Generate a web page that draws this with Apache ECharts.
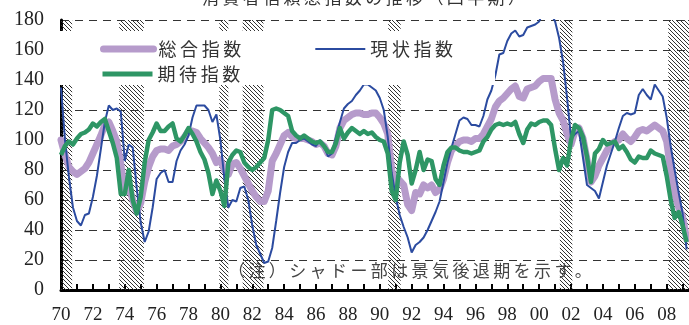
<!DOCTYPE html>
<html>
<head>
<meta charset="utf-8">
<script src="https://cdn.jsdelivr.net/npm/echarts@6/dist/echarts.min.js"></script>
<style>
  html, body { margin: 0; padding: 0; background: #fff; }
  #main { width: 689px; height: 325px; }
</style>
</head>
<body>
<div id="main"></div>
<script>
// quarterly values, 1970Q1 .. 2009Q2
var startYear = 1970;
var compositeIndex = [
  100, 90, 82, 79,   77, 79, 81, 85,   91, 97, 103, 110,   112, 106, 99, 84,
  65, 70, 60, 52,    58, 72, 82, 89,   93, 94, 94, 93,     96, 97, 99, 102,
  106, 106, 105, 101, 98, 95, 91, 85,  87, 80, 77, 84,     85, 81, 76, 71,
  66, 62, 59, 59,    66, 86, 91, 97,   103, 105, 102, 101, 101, 101, 100, 99,
  97, 98, 96, 91,    90, 96, 108, 113, 115, 117, 118, 118, 117, 117, 118, 118,
  115, 111, 104, 80, 69, 73, 70, 57,   53, 65, 64, 70,     68, 70, 65, 67,
  74, 85, 93, 96,    99, 100, 100, 99, 101, 101, 104, 109, 114, 122, 126, 128,
  131, 134, 136, 129, 128, 134, 135, 136, 139, 141, 141, 141, 127, 118, 113, 104,
  97, 106, 108, 101, 87, 72, 76, 83,   88, 93, 97, 99,     100, 104, 101, 99,
  102, 106, 107, 106, 108, 110, 108, 106, 99, 80, 64, 55,  49, 34
];
var presentIndex = [
  135, 100, 75, 55,  46, 43, 50, 51,   62, 76, 94, 112,    123, 120, 121, 119,
  86, 97, 95, 68,    45, 32, 39, 55,   74, 78, 80, 72,     72, 86, 93, 97,
  103, 115, 123, 123, 123, 120, 112, 117, 100, 74, 55, 60, 59, 68, 69, 60,
  43, 30, 24, 18,    19, 28, 46, 65,   82, 92, 98, 98,     100, 101, 99, 97,
  96, 100, 96, 89,   91, 102, 112, 121, 124, 126, 130, 133, 137, 137, 135, 133,
  128, 120, 102, 78, 62, 50, 42, 35,   25, 30, 32, 35,     40, 46, 52, 59,
  72, 85, 95, 104,   113, 115, 114, 110, 110, 109, 116, 127, 133, 143, 157, 158,
  166, 171, 173, 169, 170, 175, 176, 177, 179, 186, 188, 184, 179, 168, 152, 128,
  101, 104, 106, 88, 70, 68, 66, 61,   72, 83, 91, 99,     108, 116, 118, 117,
  118, 130, 134, 130, 127, 137, 133, 129, 115, 96, 80, 65, 51, 27
];
var expectIndex = [
  90, 96, 99, 97,    101, 104, 105, 107, 111, 109, 112, 114, 106, 98, 88, 64,
  64, 80, 60, 51,    62, 85, 100, 105, 111, 106, 106, 109, 111, 101, 99, 103,
  108, 104, 99, 92,  87, 78, 64, 73,   66, 56, 85, 90,     93, 92, 85, 82,
  80, 82, 85, 88,    100, 120, 121, 120, 118, 116, 106, 103, 101, 103, 101, 99,
  98, 99, 96, 92,    92, 98, 108, 101, 105, 108, 106, 104, 106, 104, 105, 102,
  100, 99, 91, 66,   60, 85, 99, 90,   71, 80, 92, 80,     87, 86, 74, 70,
  83, 92, 95, 95,    93, 92, 92, 91,   92, 93, 99, 102,    107, 110, 111, 110,
  111, 110, 112, 104, 98, 107, 111, 110, 112, 113, 113, 110, 94, 80, 88, 83,
  100, 110, 108, 102, 89, 72, 91, 94,  100, 97, 98, 99,    94, 96, 92, 87,
  85, 89, 88, 88,    93, 91, 90, 89,   76, 60, 48, 52,     43, 32
];
var recessions = [
  [1970.0, 1970.7], [1973.65, 1975.2], [1979.93, 1980.5], [1981.4, 1982.7],
  [1990.53, 1991.31], [2001.3, 2002.08], [2008.1, 2009.5]
];
var seriesNames = ['総合指数', '現状指数', '期待指数'];
var titleText = '消費者信頼感指数の推移（四半期）';
var noteText = '（注）シャドー部は景気後退期を示す。';

function toPoints(arr) {
  return arr.map(function (v, i) { return [startYear + i / 4, v]; });
}

function spaced(s) {
  return s.split('').join('\u2009');
}

function hatch() {
  var c = document.createElement('canvas');
  c.width = 4; c.height = 4;
  var g = c.getContext('2d');
  g.strokeStyle = '#333';
  g.lineWidth = 1;
  g.beginPath();
  g.moveTo(-1, -1); g.lineTo(5, 5);
  g.moveTo(-1, 3); g.lineTo(1, 5);
  g.moveTo(3, -1); g.lineTo(5, 1);
  g.stroke();
  return c;
}

var chart = echarts.init(document.getElementById('main'));
var serifFont = '"Liberation Serif", "DejaVu Serif", serif';
var jpFont = '"Noto Sans CJK JP", sans-serif';

var option = {
  animation: false,
  title: {
    text: spaced(titleText),
    left: 197,
    top: -16,
    textStyle: { fontFamily: jpFont, fontSize: 17, fontWeight: 'normal', color: '#333' }
  },
  grid: { left: 61, right: 0, top: 20, bottom: 35 },
  legend: [{
    data: [
      { name: seriesNames[0], lineStyle: { width: 7 } },
      { name: seriesNames[1], lineStyle: { width: 2 } }
    ],
    left: 95, top: 35,
    itemWidth: 50, itemHeight: 14, itemGap: 73,
    itemStyle: { opacity: 0 },
    formatter: spaced,
    textStyle: { fontFamily: jpFont, fontSize: 18, color: '#333' }
  }, {
    data: [{ name: seriesNames[2], lineStyle: { width: 5 } }],
    left: 95, top: 60,
    itemWidth: 50, itemHeight: 14,
    itemStyle: { opacity: 0 },
    formatter: spaced,
    textStyle: { fontFamily: jpFont, fontSize: 18, color: '#333' }
  }],
  xAxis: {
    type: 'value',
    min: 1970, max: 2009.4, interval: 1,
    axisLine: { lineStyle: { color: '#000', width: 3 } },
    axisTick: { inside: true, length: 6, lineStyle: { color: '#000', width: 2 } },
    axisLabel: {
      margin: 16,
      showMaxLabel: false,
      fontFamily: serifFont, fontSize: 19, color: '#222',
      formatter: function (v) {
        if (v % 2 !== 0) return '';
        var y = v % 100;
        return (y < 10 ? '0' : '') + y;
      }
    },
    splitLine: { show: false }
  },
  yAxis: {
    type: 'value',
    min: 0, max: 180, interval: 20,
    axisLine: { show: true, lineStyle: { color: '#000', width: 3 } },
    axisTick: { show: false },
    axisLabel: { margin: 17, fontFamily: serifFont, fontSize: 20, color: '#222' },
    splitLine: { lineStyle: { color: '#333', width: 1, type: [8, 6] } }
  },
  graphic: [{
    type: 'rect', z: 3,
    shape: { x: 58, y: 31, width: 437, height: 54 },
    style: { fill: '#fff' }
  }, {
    type: 'text', z: 3, left: 228, top: 262,
    style: { text: spaced(noteText), font: '17px "Noto Sans CJK JP"', fill: '#444' }
  }],
  series: [{
    name: seriesNames[0], type: 'line', symbol: 'none', z: 2,
    data: toPoints(compositeIndex),
    itemStyle: { color: '#B69BCB' },
    lineStyle: { color: '#B69BCB', width: 7, cap: 'round', join: 'round' },
    markArea: {
      silent: true,
      itemStyle: { color: { image: hatch(), repeat: 'repeat' } },
      data: recessions.map(function (r) { return [{ xAxis: r[0] }, { xAxis: r[1] }]; })
    }
  }, {
    name: seriesNames[1], type: 'line', symbol: 'none', z: 2,
    data: toPoints(presentIndex),
    itemStyle: { color: '#2B4BA0' },
    lineStyle: { color: '#2B4BA0', width: 2 }
  }, {
    name: seriesNames[2], type: 'line', symbol: 'none', z: 2,
    data: toPoints(expectIndex),
    itemStyle: { color: '#2E9665' },
    lineStyle: { color: '#2E9665', width: 4.5, join: 'round' }
  }]
};
chart.setOption(option);
</script>
</body>
</html>
